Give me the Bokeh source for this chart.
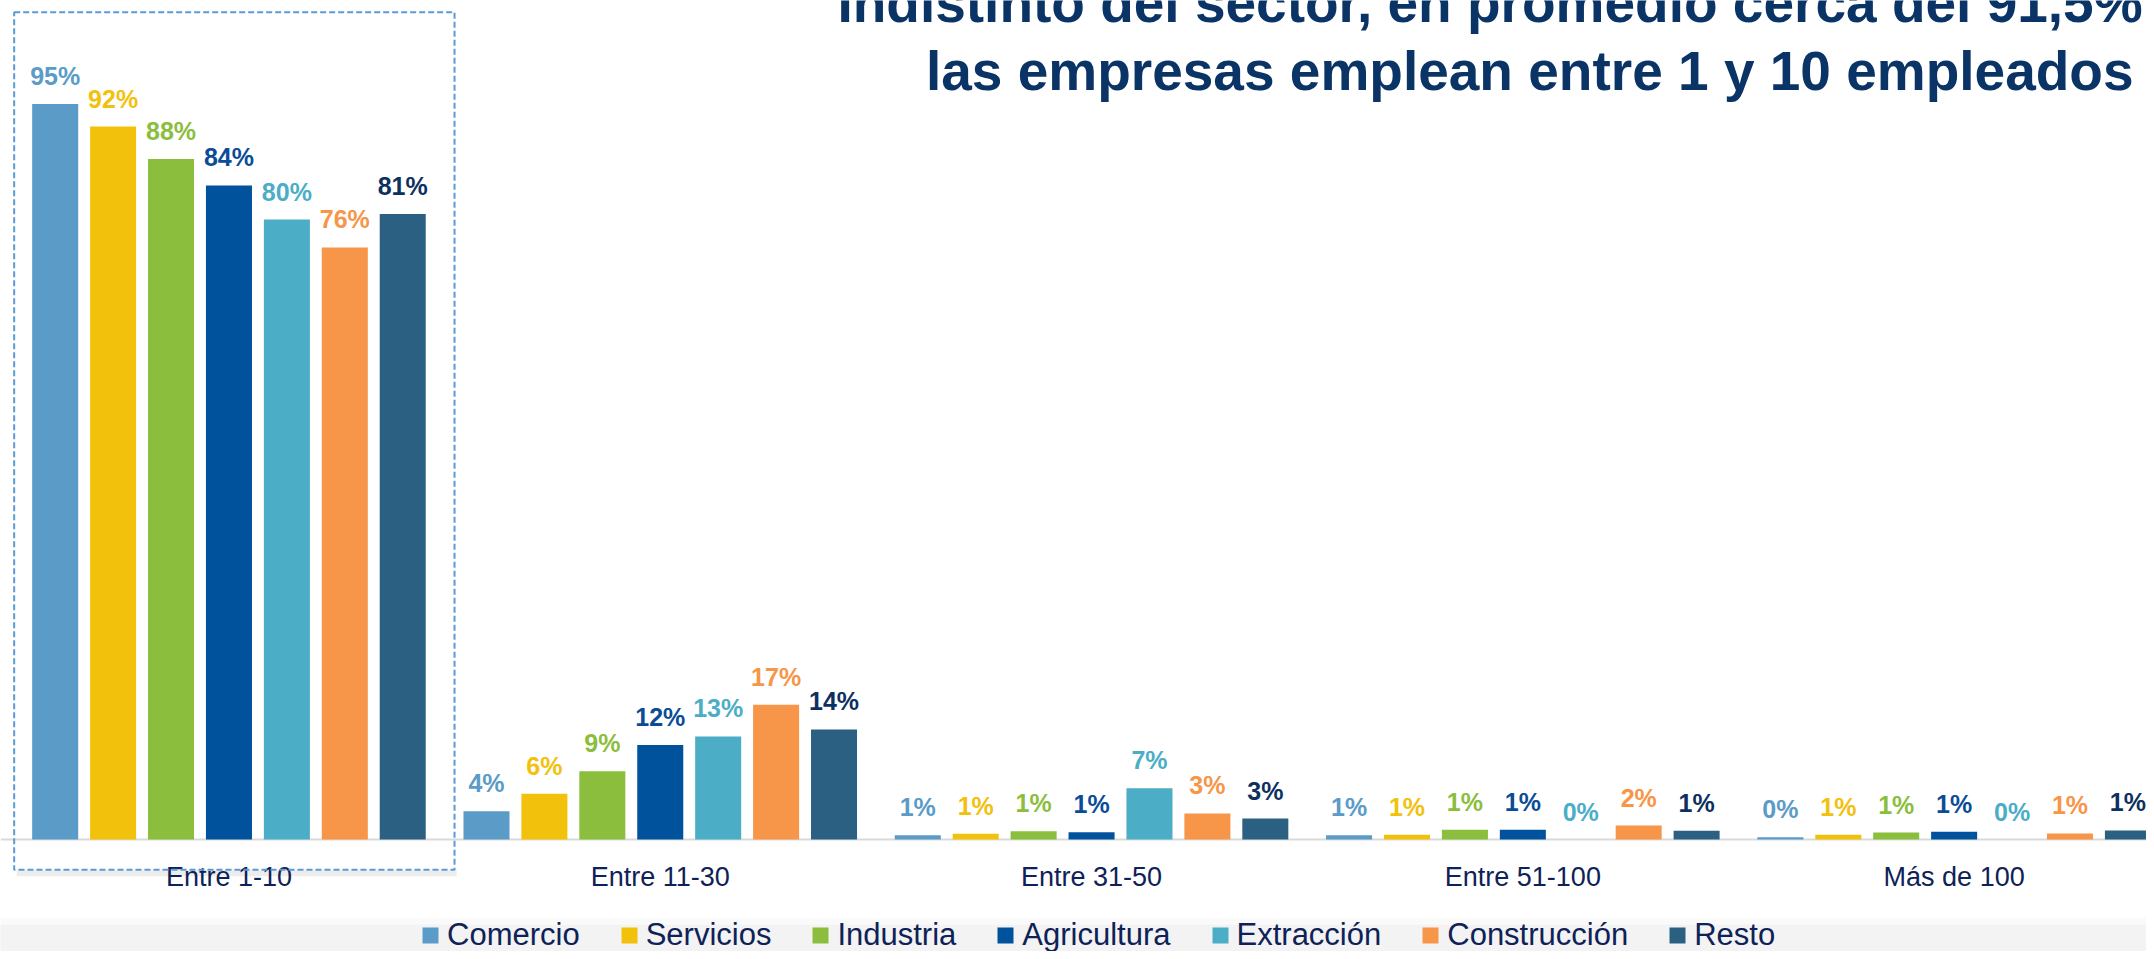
from bokeh.plotting import figure
from bokeh.models import ColumnDataSource, Range1d, BoxAnnotation, Span, Legend, LegendItem
from bokeh.transform import dodge
from bokeh.core.properties import value
from bokeh.embed import file_html
from bokeh.resources import INLINE

# ---------------- data ----------------
groups = ["Entre 1-10", "Entre 11-30", "Entre 31-50", "Entre 51-100", "Más de 100"]
series = ["Comercio", "Servicios", "Industria", "Agricultura", "Extracción", "Construcción", "Resto"]
comercio = [94.9, 3.65, 0.55, 0.55, 0.3]
servicios = [92.0, 5.9, 0.75, 0.62, 0.62]
industria = [87.8, 8.8, 1.08, 1.25, 0.9]
agricultura = [84.4, 12.2, 0.95, 1.25, 1.0]
extraccion = [80.0, 13.3, 6.6, 0.0, 0.0]
construccion = [76.4, 17.4, 3.36, 1.8, 0.78]
resto = [80.7, 14.2, 2.7, 1.12, 1.17]
values = [comercio, servicios, industria, agricultura, extraccion, construccion, resto]
title_lines = ["Indistinto del sector, en promedio cerca del 91,5% de",
               "las empresas emplean entre 1 y 10 empleados"]

# ---------------- style ----------------
bar_colors = ["#5A9BC8", "#F2C10C", "#8BBE3D", "#00529C", "#4BADC6", "#F79548", "#2B6082"]
label_colors = ["#5A9BC8", "#F2C10C", "#8BBE3D", "#0B4C96", "#4BADC6", "#F79548", "#0D305F"]
FONT = "Liberation Sans"
NAVY = "#0E2257"
TITLE_COLOR = "#0B3466"
PITCH = 0.1343
BAR_W = 0.1067

p = figure(width=2146, height=951,
           x_range=Range1d(-0.5297, 4.4460), y_range=Range1d(-14.45, 108.26),
           output_backend="svg", toolbar_location=None, min_border=0,
           x_axis_location=None, y_axis_location=None)
p.grid.visible = False
p.outline_line_color = None
p.background_fill_color = "white"
p.border_fill_color = "white"

# slide footer band behind the legend
p.add_layout(BoxAnnotation(bottom=-14.45, top=-10.1, left=-1, right=6,
                           fill_color="#fafafa", fill_alpha=1, line_alpha=0, level="underlay"))
p.add_layout(BoxAnnotation(bottom=-14.45, top=-11.0, left=-1, right=6,
                           fill_color="#f3f3f3", fill_alpha=1, line_alpha=0, level="underlay"))

# baseline
p.add_layout(Span(location=0, dimension="width", line_color="#D9D9D9", line_width=2, level="underlay"))

gi = list(range(len(groups)))
renderers = []
for i, (name, vals) in enumerate(zip(series, values)):
    src = ColumnDataSource(dict(gi=gi, top=vals, label=[f"{round(v)}%" for v in vals]))
    off = (i - 3) * PITCH
    r = p.vbar(x=dodge("gi", off, range=p.x_range), top="top", bottom=0, width=BAR_W,
               source=src, fill_color=bar_colors[i], line_color=None)
    renderers.append(r)
    p.text(x=dodge("gi", off, range=p.x_range), y="top", text="label", source=src,
           text_align="center", text_baseline="middle", y_offset=-28,
           text_font=value(FONT), text_font_style="bold", text_font_size="25px",
           text_color=label_colors[i])

# category labels
cat_src = ColumnDataSource(dict(gi=gi, name=groups))
p.text(x="gi", y=-4.9, text="name", source=cat_src, text_align="center",
       text_baseline="middle", text_font=value(FONT), text_font_size="27px",
       text_color=NAVY)

# highlight box around first group (with soft shadow)
p.add_layout(BoxAnnotation(left=-0.492, right=0.528, top=-3.91, bottom=-4.75,
                           fill_color="#000000", fill_alpha=0.07, line_alpha=0, level="underlay"))
p.add_layout(BoxAnnotation(left=-0.498, right=0.523, top=106.75, bottom=-3.91,
                           fill_alpha=0, line_color="#5B9BD5", line_alpha=1,
                           line_width=2, line_dash="6 3"))

# title (partly cut off by the screenshot, as in the reference)
p.text(x=[3.016, 3.016], y=[108.0, 99.2], text=title_lines, text_align="center",
       text_baseline="middle", text_font=value(FONT), text_font_style="bold",
       text_font_size="55px", text_color=TITLE_COLOR)

legend = Legend(items=[LegendItem(label=s, renderers=[r]) for s, r in zip(series, renderers)],
                orientation="horizontal", location=(420, -2),
                glyph_width=20, glyph_height=20, label_standoff=7, spacing=39,
                padding=0, margin=0, border_line_alpha=0, background_fill_alpha=0,
                label_text_font=FONT, label_text_font_size="31px", label_text_color=NAVY)
p.add_layout(legend)

open("out.html", "w").write(file_html(p, INLINE))
